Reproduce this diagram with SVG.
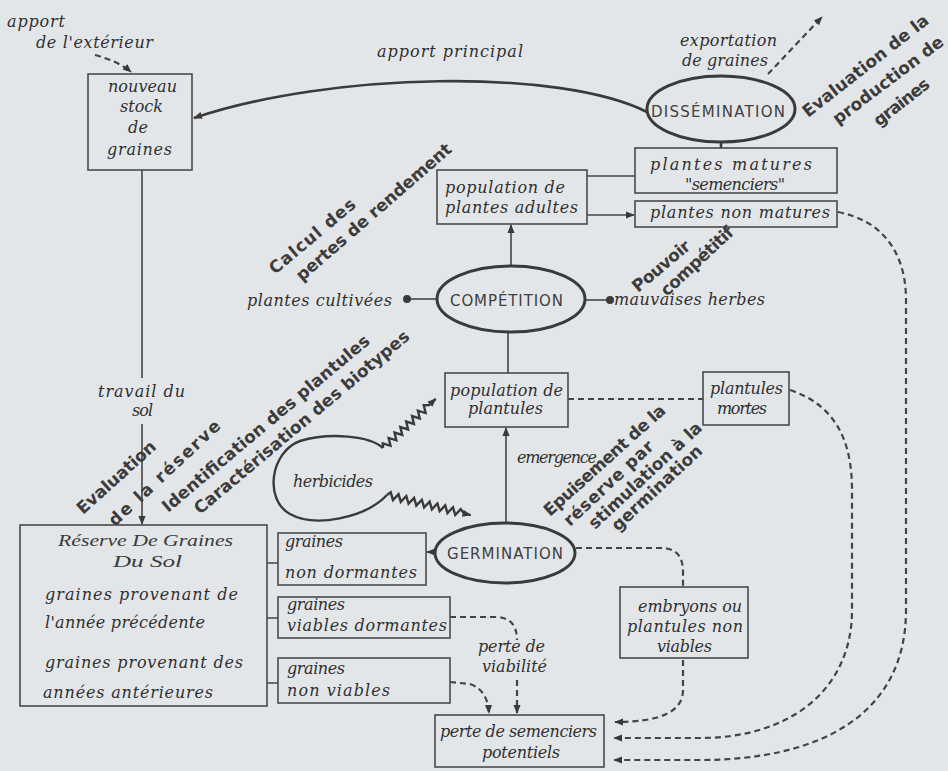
<svg xmlns="http://www.w3.org/2000/svg" width="948" height="771" viewBox="0 0 948 771">
<style>
.bg{fill:#e3e6e9}
.box{fill:none;stroke:#4a4a4a;stroke-width:1.6}
.ell{fill:none;stroke:#3a3a3a;stroke-width:3}
.ln{fill:none;stroke:#444;stroke-width:1.6}
.thick{fill:none;stroke:#3a3a3a;stroke-width:2.6}
.dash{fill:none;stroke:#444;stroke-width:2.2;stroke-dasharray:6 4}
.zz{fill:none;stroke:#3a3a3a;stroke-width:2.4;stroke-linejoin:miter}
.hand{font-family:"DejaVu Serif","Liberation Serif",serif;font-style:italic;font-size:16px;fill:#2f2f2f}
.thin{font-family:"Liberation Serif","DejaVu Serif",serif;font-style:italic;font-size:17px;fill:#3a3a3a}
.caps{font-family:"DejaVu Sans","Liberation Sans",sans-serif;font-size:15px;fill:#404040}
.rot{font-family:"DejaVu Sans","Liberation Sans",sans-serif;font-weight:bold;font-size:17px;fill:#3c3c3c}
</style>
<defs>
<marker id="ah" viewBox="0 0 10 10" refX="9" refY="5" markerWidth="9" markerHeight="9" markerUnits="userSpaceOnUse" orient="auto"><path d="M0,1 L10,5 L0,9 z" fill="#3a3a3a"/></marker>
</defs>
<rect class="bg" x="0" y="0" width="948" height="771"/>

<g id="connectors">
<path class="thick" d="M647,112 C560,68 330,72 194,118" marker-end="url(#ah)"/>
<path class="dash" d="M95,55 C110,59 123,65 131,72" marker-end="url(#ah)"/>
<path class="dash" d="M768,74 L822,17" marker-end="url(#ah)"/>
<path class="thick" d="M721,142 L721,148"/>
<path class="ln" d="M587,176 L635,176"/>
<path class="ln" d="M587,215 L634,215" marker-end="url(#ah)"/>
<path class="ln" d="M511,266 L511,225" marker-end="url(#ah)"/>
<path class="ln" d="M437,299 L407,299"/>
<circle cx="407" cy="299" r="4" fill="#3a3a3a"/>
<path class="ln" d="M585,300 L610,300"/>
<circle cx="610" cy="300" r="4" fill="#3a3a3a"/>
<path class="ln" d="M508,332 L508,373"/>
<path class="ln" d="M506,523 L506,428" marker-end="url(#ah)"/>
<path class="ln" d="M435,552 L427,552" marker-end="url(#ah)"/>
<path class="ln" d="M142,170 L142,378"/>
<path class="ln" d="M142,424 L142,524" marker-end="url(#ah)"/>
<path class="ln" d="M267,563 L278,563 M267,618 L278,618 M267,683 L278,683"/>
<path class="dash" d="M568,399 L703,399"/>
<path class="dash" d="M576,548 L660,548 C678,548 683,558 683,572 L683,587"/>
<path class="dash" d="M683,660 L683,690 C683,712 660,722 615,722" marker-end="url(#ah)"/>
<path class="dash" d="M790,390 C835,405 852,440 852,490 L852,610 C852,690 790,738 700,738 L614,738" marker-end="url(#ah)"/>
<path class="dash" d="M838,212 C880,220 906,250 906,300 L906,610 C906,715 820,760 700,760 L614,760" marker-end="url(#ah)"/>
<path class="dash" d="M450,617 L495,617 C510,617 517,625 517,640"/>
<path class="dash" d="M517,680 L517,713" marker-end="url(#ah)"/>
<path class="dash" d="M450,682 L470,684 C482,688 488,698 489,713" marker-end="url(#ah)"/>
<path class="zz" d="M383,448 C370,436 330,432 300,441 C270,452 264,500 290,514 C315,528 365,518 387,495"/>
<path class="zz" transform="translate(383,448) rotate(-43)" d="M0,0 l3,-3.5 l4,7 l4,-7 l4,7 l4,-7 l4,7 l4,-7 l4,7 l4,-7 l4,7 l4,-7 l4,7 l4,-7 l4,7 l4,-7 l4,3.5 L72,0" marker-end="url(#ah)"/>
<path class="zz" transform="translate(387,495) rotate(13.5)" d="M0,0 l3,-3.5 l4,7 l4,-7 l4,7 l4,-7 l4,7 l4,-7 l4,7 l4,-7 l4,7 l4,-7 l4,7 l4,-7 l4,7 l4,-7 l4,7 l4,-7 l4,7 l4,-7 l4,3.5 L86,0" marker-end="url(#ah)"/>
</g>

<g id="apport-ext">
<text class="hand" x="7" y="27" textLength="58">apport</text>
<text class="hand" x="36" y="48" textLength="117">de l'extérieur</text>
</g>
<g id="nouveau-stock">
<rect class="box" x="88" y="74" width="104" height="96"/>
<text class="hand" x="108" y="92" textLength="69">nouveau</text>
<text class="hand" x="120" y="112" textLength="43">stock</text>
<text class="hand" x="128" y="133" textLength="20">de</text>
<text class="hand" x="107" y="155" textLength="65">graines</text>
</g>
<g id="apport-principal"><text class="hand" x="377" y="57" textLength="146">apport principal</text></g>
<g id="exportation">
<text class="hand" x="680" y="46" textLength="97">exportation</text>
<text class="hand" x="682" y="66" textLength="86">de graines</text>
</g>
<g id="dissemination">
<ellipse class="ell" cx="721" cy="109" rx="74" ry="33"/>
<text class="caps" x="651" y="117" textLength="134">DISSÉMINATION</text>
</g>
<g id="eval-production">
<text class="rot" transform="translate(808,118) rotate(-38)" textLength="155">Evaluation de la</text>
<text class="rot" transform="translate(838,125) rotate(-37)" textLength="134">production de</text>
<text class="rot" transform="translate(879,127) rotate(-38)" textLength="66">graines</text>
</g>
<g id="plantes-matures">
<rect class="box" x="635" y="148" width="202" height="45"/>
<text class="hand" x="650" y="170" textLength="162">plantes matures</text>
<text class="hand" x="685" y="190" textLength="100">"semenciers"</text>
</g>
<g id="plantes-non-matures">
<rect class="box" x="635" y="201" width="202" height="26"/>
<text class="hand" x="650" y="218" textLength="180">plantes non matures</text>
</g>
<g id="pop-adultes">
<rect class="box" x="437" y="170" width="150" height="54"/>
<text class="hand" x="445" y="193" textLength="120">population de</text>
<text class="hand" x="445" y="213" textLength="133">plantes adultes</text>
</g>
<g id="calcul">
<text class="rot" transform="translate(275,275) rotate(-40)" textLength="107">Calcul des</text>
<text class="rot" transform="translate(302,282) rotate(-41)" textLength="200">pertes de rendement</text>
</g>
<g id="competition">
<ellipse class="ell" cx="511" cy="299" rx="74" ry="33"/>
<text class="caps" x="450" y="306" textLength="113">COMPÉTITION</text>
</g>
<g id="plantes-cultivees"><text class="hand" x="247" y="306" textLength="145">plantes cultivées</text></g>
<g id="mauvaises-herbes"><text class="hand" x="614" y="305" textLength="151">mauvaises herbes</text></g>
<g id="pouvoir">
<text class="rot" transform="translate(638,293) rotate(-40)" textLength="70">Pouvoir</text>
<text class="rot" transform="translate(667,297) rotate(-43)" textLength="93">compétitif</text>
</g>
<g id="travail"><text class="hand" x="98" y="397" textLength="87">travail du</text><text class="hand" x="132" y="416" textLength="21">sol</text></g>
<g id="eval-reserve">
<text class="rot" transform="translate(83,515) rotate(-42)" textLength="100">Evaluation</text>
<text class="rot" transform="translate(115,527) rotate(-43)" textLength="146">de la réserve</text>
</g>
<g id="identification">
<text class="rot" transform="translate(168,513) rotate(-40)" textLength="265">Identification des plantules</text>
<text class="rot" transform="translate(200,515) rotate(-40)" textLength="275">Caractérisation des biotypes</text>
</g>
<g id="herbicides"><text class="hand" x="293" y="487" textLength="80">herbicides</text></g>
<g id="pop-plantules">
<rect class="box" x="445" y="373" width="123" height="54"/>
<text class="hand" x="450" y="396" textLength="113">population de</text>
<text class="hand" x="468" y="414" textLength="75">plantules</text>
</g>
<g id="plantules-mortes">
<rect class="box" x="703" y="372" width="86" height="53"/>
<text class="hand" x="710" y="394" textLength="73">plantules</text>
<text class="hand" x="717" y="414" textLength="50">mortes</text>
</g>
<g id="emergence"><text class="hand" x="517" y="463" textLength="80">emergence</text></g>
<g id="epuisement">
<text class="rot" transform="translate(550,517) rotate(-42)" textLength="157">Epuisement de la</text>
<text class="rot" transform="translate(570,527) rotate(-43)" textLength="116">réserve par</text>
<text class="rot" transform="translate(595,530) rotate(-43)" textLength="148">stimulation à la</text>
<text class="rot" transform="translate(618,532) rotate(-43)" textLength="117">germination</text>
</g>
<g id="germination">
<ellipse class="ell" cx="505" cy="553" rx="70" ry="30"/>
<text class="caps" x="447" y="559" textLength="116">GERMINATION</text>
</g>
<g id="reserve">
<rect class="box" x="20" y="525" width="247" height="181"/>
<text class="thin" x="58" y="546" textLength="175" lengthAdjust="spacingAndGlyphs">Réserve De Graines</text>
<text class="thin" x="113" y="567" textLength="69" lengthAdjust="spacingAndGlyphs">Du Sol</text>
<text class="hand" x="45" y="600" textLength="193">graines provenant de</text>
<text class="hand" x="45" y="628" textLength="160">l'année précédente</text>
<text class="hand" x="45" y="668" textLength="198">graines provenant des</text>
<text class="hand" x="43" y="698" textLength="170">années antérieures</text>
</g>
<g id="non-dormantes">
<rect class="box" x="278" y="533" width="148" height="52"/>
<text class="hand" x="285" y="547" textLength="58">graines</text>
<text class="hand" x="285" y="578" textLength="132">non dormantes</text>
</g>
<g id="viables-dormantes">
<rect class="box" x="278" y="597" width="172" height="41"/>
<text class="hand" x="287" y="610" textLength="58">graines</text>
<text class="hand" x="287" y="631" textLength="160">viables dormantes</text>
</g>
<g id="non-viables">
<rect class="box" x="278" y="658" width="172" height="45"/>
<text class="hand" x="287" y="674" textLength="58">graines</text>
<text class="hand" x="287" y="696" textLength="103">non viables</text>
</g>
<g id="perte-viabilite">
<text class="hand" x="478" y="652" textLength="67">perte de</text>
<text class="hand" x="482" y="672" textLength="65">viabilité</text>
</g>
<g id="embryons">
<rect class="box" x="620" y="587" width="128" height="71"/>
<text class="hand" x="638" y="612" textLength="104">embryons ou</text>
<text class="hand" x="627" y="632" textLength="116">plantules non</text>
<text class="hand" x="657" y="652" textLength="55">viables</text>
</g>
<g id="perte-semenciers">
<rect class="box" x="435" y="715" width="169" height="52"/>
<text class="hand" x="440" y="737" textLength="157">perte de semenciers</text>
<text class="hand" x="482" y="758" textLength="78">potentiels</text>
</g>
</svg>
